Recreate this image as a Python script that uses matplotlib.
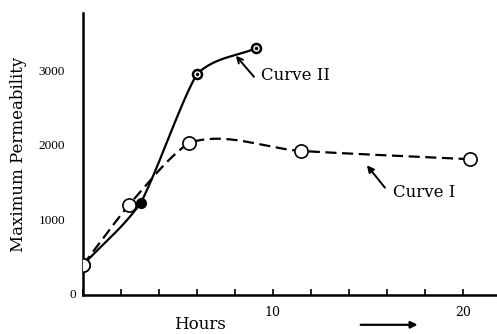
import matplotlib
matplotlib.use("Agg")
import matplotlib.pyplot as plt
import numpy as np

# readings taken off the figure (hours, maximum permeability)
hours_1 = [0, 2.4, 5.6, 11.5, 20.4]
perm_1 = [400, 1195, 2030, 1920, 1810]

hours_2 = [0, 3.05, 6.0, 9.1]
perm_2 = [400, 1230, 2950, 3290]

x_ticks = [0, 2, 4, 6, 8, 10, 12, 14, 16, 18, 20]
x_labels = ["", "", "", "", "", "10", "", "", "", "", "20"]
y_ticks = [1000, 2000, 3000]
y_labels = ["1000", "2000", "3000"]


def smooth(x, y, lean=0.0, n=60):
	# cubic hermite through the points, for drawing the hand-drawn looking curves
	x = np.asarray(x, float)
	y = np.asarray(y, float)
	k = len(x)
	chord = np.diff(y) / np.diff(x)
	cr = np.empty(k)
	cr[0] = chord[0]
	cr[-1] = chord[-1]
	for i in range(1, k - 1):
		cr[i] = (y[i + 1] - y[i - 1]) / (x[i + 1] - x[i - 1])
	# tangent arriving at a point leans toward the incoming chord
	m_in = cr.copy()
	m_in[1:-1] = 0.5 * (cr[1:-1] + chord[:-1])
	m_out = cr.copy()
	m_out[1:-1] = (1 - lean) * cr[1:-1] + lean * chord[1:]
	xs, ys = [], []
	t = np.linspace(0, 1, n)
	h00 = 2 * t ** 3 - 3 * t ** 2 + 1
	h10 = t ** 3 - 2 * t ** 2 + t
	h01 = -2 * t ** 3 + 3 * t ** 2
	h11 = t ** 3 - t ** 2
	for i in range(k - 1):
		h = x[i + 1] - x[i]
		xs.append(x[i] + t * h)
		ys.append(h00 * y[i] + h10 * h * m_out[i] + h01 * y[i + 1] + h11 * h * m_in[i + 1])
	return np.concatenate(xs), np.concatenate(ys)


plt.rcParams["font.family"] = ["DejaVu Serif"]

fig = plt.figure(figsize=(4.97, 3.34), dpi=100)
ax = fig.add_axes([0.167, 0.117, 0.833, 0.844])

# curve I, dashed
xs, ys = smooth(hours_1, perm_1)
ax.plot(xs, ys, color="black", lw=1.6, ls=(0, (5, 2.5)))
ax.plot(hours_1, perm_1, "o", ms=9.5, mfc="white", mec="black", mew=1.2, zorder=4)

# curve II, solid
xs, ys = smooth(hours_2, perm_2, lean=0.5)
ax.plot(xs, ys, color="black", lw=1.6)
ax.plot(hours_2[2:], perm_2[2:], "o", ms=6.5, mfc="white", mec="black", mew=1.8, zorder=4)
ax.plot(hours_2[2:], perm_2[2:], "o", ms=1.5, color="black", zorder=5)
ax.plot(hours_2[1], perm_2[1], "o", ms=7, color="black", zorder=4)
ax.plot(hours_2[0], perm_2[0], "o", ms=9.5, mfc="white", mec="black", mew=1.2, zorder=6)

# labels with arrows
ax.annotate("", xy=(8.05, 3190), xytext=(9.0, 2910),
	arrowprops=dict(arrowstyle="->", color="black", lw=1.4, shrinkA=0, shrinkB=0))
ax.text(9.35, 2930, "Curve II", fontsize=12, va="center", ha="left")
ax.annotate("", xy=(14.95, 1730), xytext=(15.9, 1430),
	arrowprops=dict(arrowstyle="-|>", color="black", lw=1.4, shrinkA=0, shrinkB=0))
ax.text(16.3, 1370, "Curve I", fontsize=12, va="center", ha="left")

ax.set_xlim(0, 21.8)
ax.set_ylim(0, 3760)
for s in ["top", "right"]:
	ax.spines[s].set_visible(False)
ax.spines["left"].set_linewidth(1.8)
ax.spines["bottom"].set_linewidth(1.8)

ax.set_xticks(x_ticks)
ax.set_xticklabels(x_labels, fontsize=9)
ax.tick_params(axis="x", direction="in", length=4, width=1.2, pad=8)
ax.set_yticks(y_ticks)
ax.set_yticklabels(y_labels, fontsize=9.5, family="Liberation Serif")
ax.tick_params(axis="y", length=0, pad=13)
ax.text(-0.35, 0, "0", fontsize=9.5, ha="right", va="center", family="Liberation Serif")

ax.set_ylabel("Maximum Permeability", fontsize=12)
ax.yaxis.set_label_coords(-0.135, 0.5)
fig.text(0.403, 0.027, "Hours", fontsize=12, ha="center", va="center")
ax.annotate("", xy=(0.815, -0.106), xytext=(0.664, -0.106), xycoords="axes fraction",
	arrowprops=dict(arrowstyle="-|>", color="black", lw=1.6), annotation_clip=False)

fig.savefig("out.png", dpi=100)
